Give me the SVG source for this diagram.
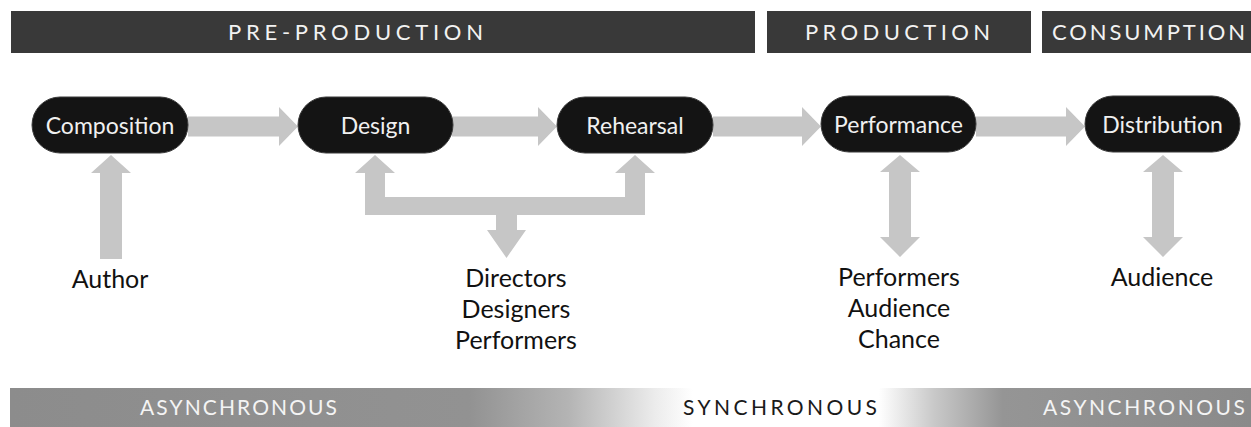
<svg xmlns="http://www.w3.org/2000/svg" width="1251" height="427" viewBox="0 0 1251 427">
  <defs>
    <linearGradient id="timeBand" x1="10" y1="0" x2="1251" y2="0" gradientUnits="userSpaceOnUse">
      <stop offset="0" stop-color="#8c8c8c"/>
      <stop offset="0.37" stop-color="#929292"/>
      <stop offset="0.45" stop-color="#b4b4b4"/>
      <stop offset="0.52" stop-color="#ececec"/>
      <stop offset="0.55" stop-color="#ffffff"/>
      <stop offset="0.70" stop-color="#ffffff"/>
      <stop offset="0.745" stop-color="#c8c8c8"/>
      <stop offset="0.80" stop-color="#959595"/>
      <stop offset="1" stop-color="#8a8a8a"/>
    </linearGradient>
  </defs>
  <style>
    .phase { fill: #393939; }
    .phase-label { font-family: "Lato", "Open Sans", sans-serif; font-size: 22px; fill: #f2f2f2; text-anchor: middle; }
    .pill { fill: #141414; stroke: #3a3a3a; stroke-width: 1; }
    .pill-label { font-family: "Lato", "Open Sans", sans-serif; font-size: 23px; fill: #f0f0f0; text-anchor: middle; }
    .flow { fill: #c6c6c6; }
    .who { font-family: "Lato", "Open Sans", sans-serif; font-size: 25px; fill: #111111; text-anchor: middle; }
    .time-label { font-family: "Lato", "Open Sans", sans-serif; font-size: 21px; text-anchor: middle; }
  </style>

  <rect width="1251" height="427" fill="#ffffff"/>

  <!-- phase headers, tracked caps fitted to each bar -->
  <g id="phases">
    <rect class="phase" x="11" y="11" width="744" height="42"/>
    <text class="phase-label" x="355.5" y="40" textLength="255" lengthAdjust="spacing">PRE-PRODUCTION</text>
    <rect class="phase" x="767" y="11" width="264" height="42"/>
    <text class="phase-label" x="897.5" y="40" textLength="185" lengthAdjust="spacing">PRODUCTION</text>
    <rect class="phase" x="1042" y="11" width="209" height="42"/>
    <text class="phase-label" x="1148.5" y="40" textLength="193" lengthAdjust="spacing">CONSUMPTION</text>
  </g>

  <!-- connectors -->
  <g id="connectors">
    <!-- stage to stage -->
    <path class="flow" d="M188,116.5 H279 V107 L298,126.5 L279,146 V136.5 H188 Z"/>
    <path class="flow" d="M452,116.5 H538 V107 L557,126.5 L538,146 V136.5 H452 Z"/>
    <path class="flow" d="M713,116.5 H802 V107 L821,126.5 L802,146 V136.5 H713 Z"/>
    <path class="flow" d="M976,116.5 H1066 V107 L1085,126.5 L1066,146 V136.5 H976 Z"/>
    <!-- author to composition -->
    <path class="flow" d="M100,259 V173 H91 L111,155 L131,173 H122 V259 Z"/>
    <!-- crew bracket to design and rehearsal -->
    <path class="flow" d="M365,215 V173 H355 L375,155 L395,173 H385 V197 H625 V173 H615 L635,155 L655,173 H645 V215 H517 V230 H526 L506.5,258 L487,230 H496 V215 Z"/>
    <!-- performance two-way -->
    <path class="flow" d="M889,172 H880 L900,155 L920,172 H911 V237 H920 L900,257 L880,237 H889 Z"/>
    <!-- distribution two-way -->
    <path class="flow" d="M1152,172 H1143 L1163,155 L1183,172 H1174 V237 H1183 L1163,257 L1143,237 H1152 Z"/>
  </g>

  <!-- stages -->
  <g id="composition">
    <rect class="pill" x="32" y="97" width="156" height="56" rx="28"/>
    <text class="pill-label" x="110" y="134">Composition</text>
  </g>
  <g id="design">
    <rect class="pill" x="298" y="97" width="155" height="56" rx="28"/>
    <text class="pill-label" x="375.5" y="134">Design</text>
  </g>
  <g id="rehearsal">
    <rect class="pill" x="557" y="97" width="156" height="56" rx="28"/>
    <text class="pill-label" x="635" y="134">Rehearsal</text>
  </g>
  <g id="performance">
    <rect class="pill" x="821" y="96" width="155" height="56" rx="28"/>
    <text class="pill-label" x="898.5" y="133">Performance</text>
  </g>
  <g id="distribution">
    <rect class="pill" x="1085" y="96" width="155" height="56" rx="28"/>
    <text class="pill-label" x="1162.5" y="133">Distribution</text>
  </g>

  <!-- participants -->
  <g id="author">
    <text class="who" x="110" y="288">Author</text>
  </g>
  <g id="crew">
    <text class="who" x="516" y="287">Directors</text>
    <text class="who" x="516" y="318">Designers</text>
    <text class="who" x="516" y="349">Performers</text>
  </g>
  <g id="live-participants">
    <text class="who" x="899" y="286">Performers</text>
    <text class="who" x="899" y="317">Audience</text>
    <text class="who" x="899" y="348">Chance</text>
  </g>
  <g id="audience">
    <text class="who" x="1162" y="286">Audience</text>
  </g>

  <!-- timing band -->
  <g id="timing">
    <rect x="10" y="388" width="1241" height="39" fill="url(#timeBand)"/>
    <text class="time-label" x="238.5" y="415" fill="#f4f4f4" textLength="197" lengthAdjust="spacing">ASYNCHRONOUS</text>
    <text class="time-label" x="780" y="415" fill="#1a1a1a" textLength="194" lengthAdjust="spacing">SYNCHRONOUS</text>
    <text class="time-label" x="1144" y="415" fill="#f4f4f4" textLength="202" lengthAdjust="spacing">ASYNCHRONOUS</text>
  </g>
</svg>
